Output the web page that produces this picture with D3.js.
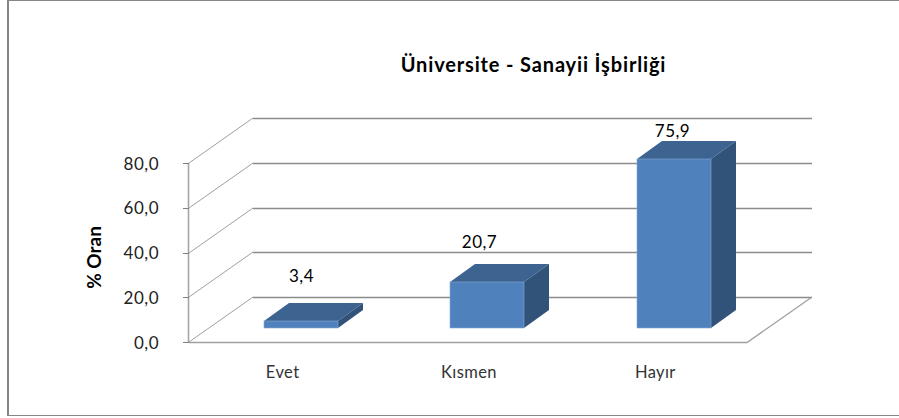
<!DOCTYPE html>
<html><head><meta charset="utf-8">
<script src="https://cdnjs.cloudflare.com/ajax/libs/d3/7.8.5/d3.min.js"></script>
<style>html,body{margin:0;padding:0;background:#fff}svg{display:block}text{font-family:Lato,"Open Sans",sans-serif;fill:#000}</style>
</head><body><svg id="c" width="899" height="418"></svg>
<script>
const categories = ["Evet", "Kısmen", "Hayır"];
const values = [3.4, 20.7, 75.9];
const valueLabels = ["3,4", "20,7", "75,9"];
const yTicks = [0, 20, 40, 60, 80];
const titleText = "Üniversite - Sanayii İşbirliği";
const yTitle = "% Oran";

const svg = d3.select("#c");
const frontL = 189, frontR = 748, y0 = 342, y80 = 163, depthX = 64, depthY = 45;
const x = d3.scaleBand().domain(categories).range([frontL, frontR]).paddingInner(0.6).paddingOuter(0.3);
const y = d3.scaleLinear().domain([0, 80]).range([y0, y80]);
const fmt = v => d3.format(".1f")(v).replace(".", ",");
const grid = "#8c8c8c";

// frame
svg.append("rect").attr("x", 7).attr("y", 0).attr("width", 892).attr("height", 1).attr("fill", "#868686");
svg.append("rect").attr("x", 7).attr("y", 0).attr("width", 2).attr("height", 416).attr("fill", "#868686");
svg.append("rect").attr("x", 7).attr("y", 415).attr("width", 892).attr("height", 1).attr("fill", "#868686");

// gridlines: side wall and back wall
const g = svg.append("g").attr("fill", "none").attr("stroke", grid);
yTicks.forEach(t => {
  const yy = Math.round(y(t));
  if (t > 0) g.append("line").attr("x1", frontL).attr("y1", yy).attr("x2", frontL + depthX).attr("y2", yy - depthY).attr("stroke", "#a0a0a0");
  g.append("line").attr("x1", frontL + depthX).attr("x2", frontR + depthX).attr("y1", yy - depthY + .5).attr("y2", yy - depthY + .5).attr("stroke-width", 1.4);
});
// floor
g.append("path").attr("d", `M${frontL},${y0} L${frontL + depthX},${y0 - depthY}`).attr("stroke", "#a0a0a0");
g.append("path").attr("d", `M${frontR + depthX},${y0 - depthY} L${frontR - 1},${y0 + .5} H${frontL}`).attr("stroke", "#a0a0a0").attr("stroke-width", 1.3);
// axis
g.append("line").attr("x1", frontL - .5).attr("x2", frontL - .5).attr("y1", y80).attr("y2", y0).attr("stroke", "#a6a6a6").attr("stroke-width", 1.6);
yTicks.forEach(t => g.append("line").attr("x1", frontL - 6).attr("x2", frontL).attr("y1", Math.round(y(t)) + .5).attr("y2", Math.round(y(t)) + .5).attr("stroke", "#808080"));

// bars
const offX = 19, offY = 14, barDX = 25, barDY = 18;
const labelDX = [0.5, -7.5, -1.5], labelY = [282, 248, 137];
const bars = svg.append("g");
categories.forEach((c, i) => {
  const l = Math.round(x(c) + offX), r = l + Math.floor(x.bandwidth()), b = y(0) - offY, t = Math.ceil(y(values[i]) - offY);
  bars.append("path").attr("fill", "#3d6490").attr("d", `M${l},${t}L${l + barDX},${t - barDY}H${r + barDX}L${r},${t}Z`);
  bars.append("path").attr("fill", "#325379").attr("d", `M${r},${t}L${r + barDX},${t - barDY}V${b - barDY}L${r},${b}Z`);
  bars.append("rect").attr("x", l).attr("y", t).attr("width", r - l).attr("height", b - t).attr("fill", "#4f81bd").attr("stroke", "#86a8d4").attr("stroke-width", .6);
  svg.append("text").attr("x", (l + r) / 2 + labelDX[i]).attr("y", labelY[i]).attr("text-anchor", "middle").attr("font-size", 17).attr("letter-spacing", .5).text(valueLabels[i]);
  svg.append("text").attr("x", x(c) + x.bandwidth() / 2 + .5).attr("y", 378).attr("text-anchor", "middle").attr("font-size", 16.5).attr("letter-spacing", .4).style("fill", "#333").text(c);
});

// y tick labels
yTicks.forEach(t => svg.append("text").attr("x", 159).attr("y", y(t) + 6.5).attr("text-anchor", "end").attr("font-size", 17).attr("letter-spacing", .5).style("fill", "#222").text(fmt(t)));

svg.append("text").attr("transform", "translate(101,257.5) rotate(-90)").attr("text-anchor", "middle").attr("font-size", 19).attr("font-weight", 700).text(yTitle);
svg.append("text").attr("x", 533.5).attr("y", 72).attr("text-anchor", "middle").attr("font-size", 20).attr("font-weight", 700).attr("letter-spacing", .85).text(titleText);
</script></body></html>
